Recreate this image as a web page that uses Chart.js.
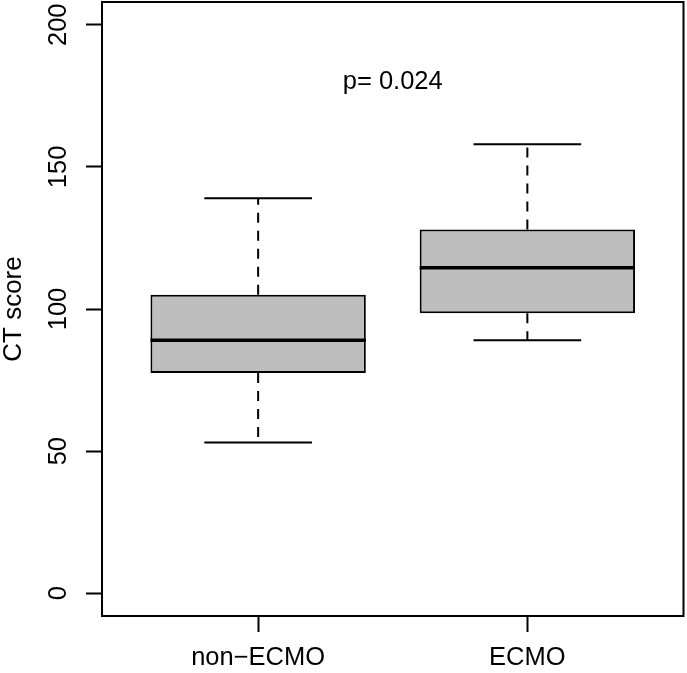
<!DOCTYPE html>
<html lang="en">
<head>
    <meta charset="UTF-8">
    <title>CT score boxplot</title>
    <script src="https://cdn.jsdelivr.net/npm/chart.js@4.4.1/dist/chart.umd.min.js"></script>
    <style>
        body { margin: 0; background: #fff; }
        #wrap { width: 687px; height: 673px; }
    </style>
</head>
<body>
    <div id="wrap"><canvas id="chart" width="687" height="673"></canvas></div>

<script>
    // box statistics
    const groups = ['non\u2212ECMO', 'ECMO'];
    const whiskerLow = [53, 89];
    const q1 = [77.5, 98.5];
    const median = [89, 114.5];
    const q3 = [105, 128];
    const whiskerHigh = [139, 158];

    const yTicks = [0, 50, 100, 150, 200];
    const xTicks = [1, 2];
    const pText = 'p= 0.024';
    const pAt = [1.5, 180];

    const FONT = '"Liberation Sans", Arial, Helvetica, sans-serif';

    // whiskers, staples, medians, frame and p-value label
    const boxExtras = {
        id: 'boxExtras',
        afterDatasetsDraw(chart) {
            const ctx = chart.ctx;
            const x = chart.scales.x, y = chart.scales.y;
            const area = chart.chartArea;
            ctx.save();
            ctx.strokeStyle = '#000';
            ctx.lineCap = 'butt';

            groups.forEach((g, i) => {
                const cx = x.getPixelForValue(i + 1);
                const capL = x.getPixelForValue(i + 1 - 0.2);
                const capR = x.getPixelForValue(i + 1 + 0.2);
                const boxL = x.getPixelForValue(i + 1 - 0.4);
                const boxR = x.getPixelForValue(i + 1 + 0.4);

                // dashed whiskers
                ctx.lineWidth = 2;
                ctx.setLineDash([10, 8]);
                ctx.beginPath();
                ctx.moveTo(cx, y.getPixelForValue(q3[i]));
                ctx.lineTo(cx, y.getPixelForValue(whiskerHigh[i]));
                ctx.moveTo(cx, y.getPixelForValue(q1[i]));
                ctx.lineTo(cx, y.getPixelForValue(whiskerLow[i]));
                ctx.stroke();

                // staples
                ctx.setLineDash([]);
                ctx.beginPath();
                ctx.moveTo(capL, y.getPixelForValue(whiskerHigh[i]));
                ctx.lineTo(capR, y.getPixelForValue(whiskerHigh[i]));
                ctx.moveTo(capL, y.getPixelForValue(whiskerLow[i]));
                ctx.lineTo(capR, y.getPixelForValue(whiskerLow[i]));
                ctx.stroke();

                // median
                ctx.lineWidth = 3.5;
                ctx.beginPath();
                ctx.moveTo(boxL, y.getPixelForValue(median[i]));
                ctx.lineTo(boxR, y.getPixelForValue(median[i]));
                ctx.stroke();
            });

            // plot frame
            ctx.lineWidth = 2;
            ctx.strokeRect(area.left, area.top, area.right - area.left, area.bottom - area.top);

            // p value
            ctx.fillStyle = '#000';
            ctx.font = '25.5px ' + FONT;
            ctx.textAlign = 'center';
            ctx.textBaseline = 'middle';
            ctx.fillText(pText, x.getPixelForValue(pAt[0]), y.getPixelForValue(pAt[1]));
            ctx.restore();
        }
    };

    const ctx = document.getElementById('chart').getContext('2d');
    const myChart = new Chart(ctx, {
        type: 'bar',
        data: {
            datasets: [{
                label: 'CT score',
                data: groups.map((g, i) => ({ x: xTicks[i], y: [q1[i], q3[i]] })),
                backgroundColor: '#BEBEBE',
                borderColor: '#000',
                borderWidth: 2,
                borderSkipped: false,
                categoryPercentage: 1,
                barPercentage: 0.8
            }]
        },
        options: {
            responsive: false,
            animation: false,
            layout: { padding: { left: 0, top: 2, right: 3.5, bottom: 0 } },
            plugins: {
                legend: { display: false },
                tooltip: { enabled: false }
            },
            scales: {
                x: {
                    type: 'linear',
                    min: 0.42,
                    max: 2.58,
                    offset: false,
                    afterBuildTicks: axis => { axis.ticks = xTicks.map(v => ({ value: v })); },
                    afterFit: axis => {
                        axis.height = 57;
                        axis.paddingLeft = 0;
                        axis.paddingRight = 0;
                    },
                    grid: {
                        offset: false,
                        drawOnChartArea: false,
                        drawTicks: true,
                        tickLength: 16,
                        tickColor: '#000',
                        tickWidth: 2
                    },
                    border: { display: false },
                    ticks: {
                        color: '#000',
                        font: { family: FONT, size: 25.5 },
                        padding: 11,
                        maxRotation: 0,
                        autoSkip: false,
                        callback: v => groups[v - 1]
                    }
                },
                y: {
                    min: -8,
                    max: 208,
                    afterBuildTicks: axis => { axis.ticks = yTicks.map(v => ({ value: v })); },
                    afterFit: axis => {
                        axis.width = 102;
                        axis.paddingTop = 0;
                        axis.paddingBottom = 0;
                    },
                    grid: {
                        drawOnChartArea: false,
                        drawTicks: true,
                        tickLength: 16,
                        tickColor: '#000',
                        tickWidth: 2
                    },
                    border: { display: false },
                    ticks: {
                        color: '#000',
                        font: { family: FONT, size: 25.5 },
                        padding: 6,
                        minRotation: 90,
                        maxRotation: 90,
                        crossAlign: 'center'
                    },
                    title: {
                        display: true,
                        text: 'CT score',
                        color: '#000',
                        font: { family: FONT, size: 26, lineHeight: 1.1 },
                        padding: 0
                    }
                }
            }
        },
        plugins: [boxExtras]
    });
</script>
</body>
</html>
